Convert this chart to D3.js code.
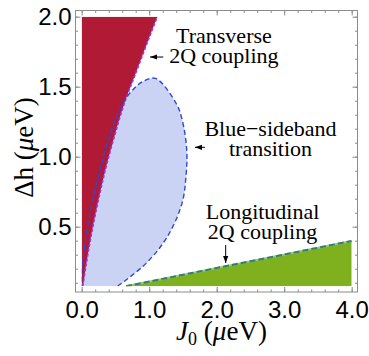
<!DOCTYPE html>
<html>
<head>
<meta charset="utf-8">
<script src="https://cdn.jsdelivr.net/npm/d3@7"></script>
<style>
  body { margin: 0; background: #fff; }
  svg { display: block; font-family: "Liberation Serif", "Times New Roman", serif; }
</style>
</head>
<body>
<svg id="chart" width="369" height="356"></svg>
<script>
// ticks
const jTicks = [0, 1, 2, 3, 4];
const jTickLabels = ['0.0', '1.0', '2.0', '3.0', '4.0'];
const dhTicks = [0.5, 1.0, 1.5, 2.0];
const dhTickLabels = ['0.5', '1.0', '1.5', '2.0'];

// region boundaries, [J0, Δh]
const transverseEdge = [
  [0.015, 0.075], [0.053, 0.19], [0.138, 0.43], [0.237, 0.667], [0.35, 0.905],
  [0.483, 1.143], [0.631, 1.38], [0.819, 1.62], [0.96, 1.8], [1.12, 2.0]
];
const sidebandEdge = [
  [0.533, 0.075], [0.953, 0.238], [1.27, 0.43], [1.486, 0.667], [1.545, 0.86],
  [1.556, 1.048], [1.49, 1.26], [1.40, 1.38], [1.09, 1.56], [0.9, 1.535],
  [0.755, 1.477], [0.607, 1.38], [0.41, 1.143], [0.271, 0.905], [0.153, 0.667],
  [0.064, 0.43], [0.004, 0.19], [0, 0.075]
];
const longitudinalEdge = [[0.656, 0.075], [4.0, 0.398]];

const dhMin = 0.075;

const svg = d3.select('#chart');

const x = d3.scaleLinear().domain([0, 4]).range([81.7, 351.7]);
const y = d3.scaleLinear().domain([0, 2]).range([296.7, 16.7]);

const frame = { left: 75.5, right: 357.5, top: 10.5, bottom: 292 };

svg.append('defs').append('clipPath').attr('id', 'plot-clip')
  .append('rect')
  .attr('x', x(0)).attr('y', y(2))
  .attr('width', x(4) - x(0)).attr('height', y(dhMin) - y(2));

const plot = svg.append('g').attr('clip-path', 'url(#plot-clip)');

const edgeLine = d3.line().x(d => x(d[0])).y(d => y(d[1]));

// blue-sideband region
const ellipseLine = edgeLine.curve(d3.curveCatmullRom);
plot.append('path')
  .attr('d', ellipseLine(sidebandEdge) + 'Z')
  .attr('fill', '#cbd3f4');

// transverse region
plot.append('path')
  .attr('d', d3.area()
    .y(d => y(d[1]))
    .x0(x(0))
    .x1(d => x(d[0]))
    .curve(d3.curveMonotoneY)([[0, dhMin]].concat(transverseEdge)))
  .attr('fill', '#b01a34');

// longitudinal region
plot.append('path')
  .attr('d', d3.area()
    .x(d => x(d[0]))
    .y0(y(dhMin))
    .y1(d => y(d[1]))(longitudinalEdge))
  .attr('fill', '#7fb11e');

// boundaries
plot.append('path')
  .attr('d', d3.line().x(d => x(d[0])).y(d => y(d[1])).curve(d3.curveMonotoneY)(transverseEdge))
  .attr('fill', 'none')
  .attr('stroke', '#a032e6')
  .attr('stroke-width', 1.6)
  .attr('stroke-dasharray', '3,2');

plot.append('path')
  .attr('d', d3.line().x(d => x(d[0])).y(d => y(d[1])).curve(d3.curveCatmullRom)(sidebandEdge))
  .attr('fill', 'none')
  .attr('stroke', '#2e47d8')
  .attr('stroke-width', 1.4)
  .attr('stroke-dasharray', '5,3');

plot.append('path')
  .attr('d', d3.line().x(d => x(d[0])).y(d => y(d[1]))(longitudinalEdge))
  .attr('fill', 'none')
  .attr('stroke', '#9fc86e')
  .attr('stroke-width', 2);
plot.append('path')
  .attr('d', d3.line().x(d => x(d[0])).y(d => y(d[1]))(longitudinalEdge))
  .attr('fill', 'none')
  .attr('stroke', '#2f7d7f')
  .attr('stroke-width', 2)
  .attr('stroke-dasharray', '6,3');

// frame and ticks
const tickColor = '#8c8c8c';
const yMinor = d3.scaleLinear().domain([dhMin, 2]).range([y(dhMin), y(2)]);

function styleAxis(g) {
  g.select('.domain').remove();
  g.selectAll('.tick line').attr('stroke', tickColor);
  g.selectAll('.tick text').attr('fill', '#000').attr('font-size', 24);
}

// bottom
svg.append('g').attr('transform', `translate(0,${frame.bottom})`)
  .call(d3.axisBottom(x).tickValues(x.ticks(20)).tickSize(-2.5).tickFormat(''))
  .call(styleAxis);
svg.append('g').attr('transform', `translate(0,${frame.bottom})`)
  .call(d3.axisBottom(x).tickValues(jTicks).tickSize(-5).tickPadding(9)
    .tickFormat((d, i) => jTickLabels[i]))
  .call(styleAxis);
// top
svg.append('g').attr('transform', `translate(0,${frame.top})`)
  .call(d3.axisTop(x).tickValues(x.ticks(20)).tickSize(-2.5).tickFormat(''))
  .call(styleAxis);
svg.append('g').attr('transform', `translate(0,${frame.top})`)
  .call(d3.axisTop(x).tickValues(jTicks).tickSize(-5).tickFormat(''))
  .call(styleAxis);
// left
svg.append('g').attr('transform', `translate(${frame.left},0)`)
  .call(d3.axisLeft(y).tickValues(yMinor.ticks(20)).tickSize(-2.5).tickFormat(''))
  .call(styleAxis);
svg.append('g').attr('transform', `translate(${frame.left},0)`)
  .call(d3.axisLeft(y).tickValues(dhTicks).tickSize(-5).tickPadding(4)
    .tickFormat((d, i) => dhTickLabels[i]))
  .call(styleAxis);
// right
svg.append('g').attr('transform', `translate(${frame.right},0)`)
  .call(d3.axisRight(y).tickValues(yMinor.ticks(20)).tickSize(-2.5).tickFormat(''))
  .call(styleAxis);
svg.append('g').attr('transform', `translate(${frame.right},0)`)
  .call(d3.axisRight(y).tickValues(dhTicks).tickSize(-5).tickFormat(''))
  .call(styleAxis);

svg.append('rect')
  .attr('x', frame.left).attr('y', frame.top)
  .attr('width', frame.right - frame.left).attr('height', frame.bottom - frame.top)
  .attr('fill', 'none').attr('stroke', tickColor).attr('stroke-width', 1);

// axis labels
const xLabel = svg.append('text')
  .attr('x', 221.5).attr('y', 340)
  .attr('text-anchor', 'middle')
  .attr('font-size', 27);
xLabel.append('tspan').attr('font-style', 'italic').text('J');
xLabel.append('tspan').attr('font-size', 18).attr('dy', 5).text('0');
xLabel.append('tspan').attr('dy', -5).text(' (');
xLabel.append('tspan').attr('font-style', 'italic').text('μ');
xLabel.append('tspan').text('eV)');

const yLabel = svg.append('text')
  .attr('transform', 'translate(33,147.5) rotate(-90)')
  .attr('text-anchor', 'middle')
  .attr('font-size', 27);
yLabel.append('tspan').text('Δh (');
yLabel.append('tspan').attr('font-style', 'italic').text('μ');
yLabel.append('tspan').text('eV)');

// annotations
svg.select('defs').append('marker')
  .attr('id', 'head')
  .attr('markerUnits', 'userSpaceOnUse')
  .attr('markerWidth', 8).attr('markerHeight', 6)
  .attr('viewBox', '0 -3 8 6')
  .attr('refX', 7).attr('refY', 0)
  .attr('orient', 'auto')
  .append('path').attr('d', 'M0,-2.6L7,0L0,2.6Z').attr('fill', '#000');

const notes = [
  { lines: ['Transverse', '2Q coupling'], at: [2.107, 1.81], from: [1.209, 1.712], to: [1.012, 1.712] },
  { lines: ['Blue\u2212sideband', 'transition'], at: [2.797, 1.148], from: [1.827, 1.067], to: [1.679, 1.067] },
  { lines: ['Longitudinal', '2Q coupling'], at: [2.679, 0.555], from: [2.133, 0.369], to: [2.133, 0.241] }
];

notes.forEach(n => {
  const t = svg.append('text')
    .attr('text-anchor', 'middle')
    .attr('font-size', 22);
  n.lines.forEach((line, i) => {
    t.append('tspan')
      .attr('x', x(n.at[0]))
      .attr('y', y(n.at[1]) + i * 20)
      .text(line);
  });
  svg.append('line')
    .attr('x1', x(n.from[0])).attr('y1', y(n.from[1]))
    .attr('x2', x(n.to[0])).attr('y2', y(n.to[1]))
    .attr('stroke', '#000').attr('stroke-width', 1)
    .attr('marker-end', 'url(#head)');
});
</script>
</body>
</html>
